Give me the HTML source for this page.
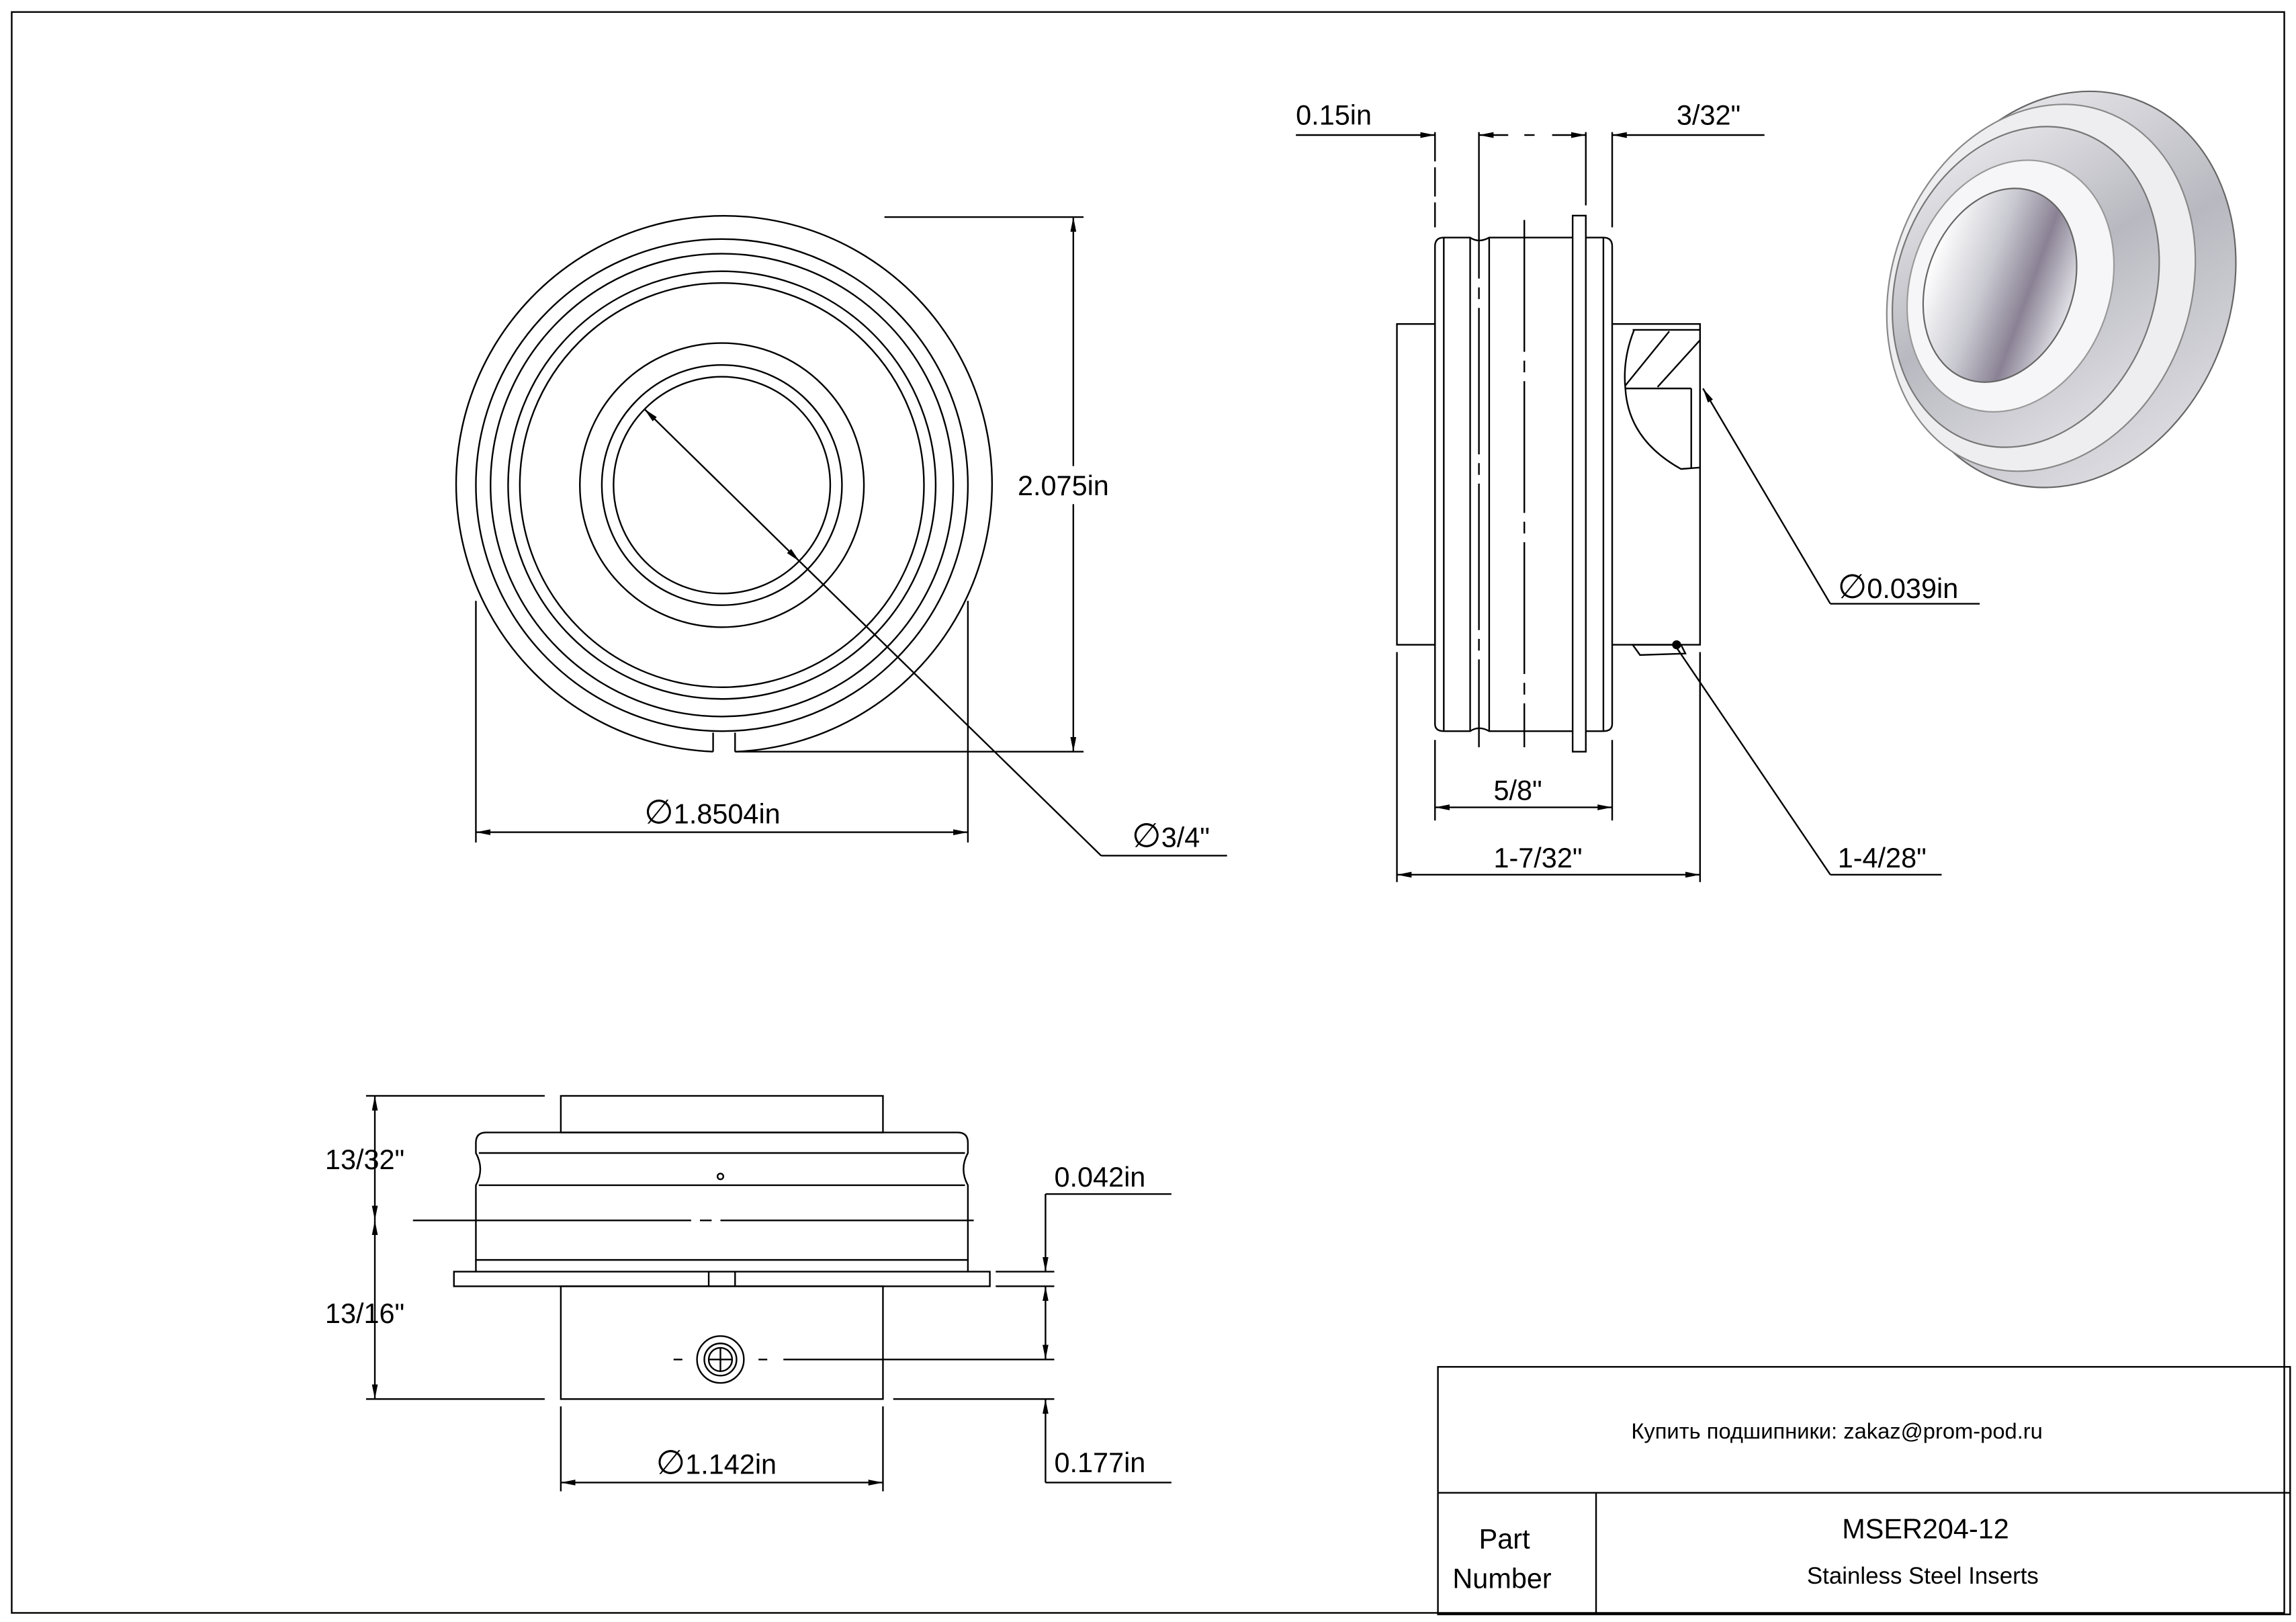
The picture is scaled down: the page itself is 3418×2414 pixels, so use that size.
<!DOCTYPE html>
<html><head><meta charset="utf-8"><style>
html,body{margin:0;padding:0;background:#fff}
svg{display:block}
text{font-family:"Liberation Sans",sans-serif;fill:#000}
</style></head><body>
<svg width="3418" height="2414" viewBox="0 0 1568 1107" xmlns="http://www.w3.org/2000/svg">
<defs><marker id="a" viewBox="0 0 10 4" refX="10" refY="2" markerWidth="10" markerHeight="4" orient="auto-start-reverse" markerUnits="userSpaceOnUse"><path d="M0,0L10,2L0,4z" fill="#000"/></marker>
<linearGradient id="g1" x1="0" y1="0" x2="1" y2="1"><stop offset="0" stop-color="#f4f4f6"/><stop offset=".5" stop-color="#b8b8c0"/><stop offset="1" stop-color="#e8e8ec"/></linearGradient>
<linearGradient id="g2" x1="0" y1="0" x2="1" y2="0"><stop offset="0" stop-color="#fff"/><stop offset=".4" stop-color="#c8c8d0"/><stop offset=".7" stop-color="#8a8294"/><stop offset="1" stop-color="#e0e0e6"/></linearGradient></defs>
<g fill="none" stroke="#000" stroke-width="1.1">
<rect x="8" y="8" width="1552" height="1093"/>
<!-- front view -->
<path d="M487,513 A183,183 0 1 1 502,513"/>
<line x1="487" y1="513" x2="487" y2="500"/><line x1="502" y1="513" x2="502" y2="500"/>
<circle cx="493" cy="331" r="168"/>
<circle cx="493" cy="331" r="158"/>
<circle cx="493" cy="331" r="146"/>
<circle cx="493" cy="331" r="138"/>
<circle cx="493" cy="331" r="97"/>
<circle cx="493" cy="331" r="82"/>
<circle cx="493" cy="331" r="74"/>
<line x1="502" y1="513" x2="740" y2="513"/>
<line x1="604" y1="148" x2="740" y2="148"/>
<line x1="733" y1="148" x2="733" y2="513" marker-start="url(#a)" marker-end="url(#a)"/>
<line x1="325" y1="410" x2="325" y2="575"/>
<line x1="661" y1="410" x2="661" y2="575"/>
<line x1="325" y1="568" x2="661" y2="568" marker-start="url(#a)" marker-end="url(#a)"/>
<line x1="440" y1="279" x2="546" y2="383" marker-start="url(#a)" marker-end="url(#a)"/>
<line x1="546" y1="383" x2="752" y2="584"/>
<line x1="752" y1="584" x2="838" y2="584"/>
<!-- side view -->
<rect x="954" y="221" width="26" height="219"/>
<path d="M980,168 Q980,162 986,162 L1004,162 Q1010,166 1017,162 L1095,162 Q1101,162 1101,168 L1101,494 Q1101,499 1095,499 L1017,499 Q1010,495 1004,499 L986,499 Q980,499 980,494 Z"/>
<line x1="986" y1="162" x2="986" y2="499"/>
<line x1="1004" y1="162" x2="1004" y2="499"/>
<line x1="1017" y1="162" x2="1017" y2="499"/>
<line x1="1095" y1="162" x2="1095" y2="499"/>
<rect x="1074" y="147" width="9" height="366" fill="#fff"/>
<line x1="1041" y1="150" x2="1041" y2="510" stroke-dasharray="90,6,8,6"/>
<line x1="1010" y1="90" x2="1010" y2="510" stroke-dasharray="100,6,8,6"/>
<path d="M1101,221 L1161,221 L1161,440 L1101,440"/>
<line x1="1115" y1="225" x2="1161" y2="225"/>
<path d="M1116,225 Q1108,245 1110,265 Q1112,300 1148,320 L1161,319"/>
<line x1="1110" y1="265" x2="1155" y2="265"/>
<line x1="1155" y1="265" x2="1155" y2="320"/>
<line x1="1110" y1="263" x2="1140" y2="226"/>
<line x1="1132" y1="264" x2="1161" y2="232"/>
<path d="M1115,440 L1148,440 L1151,446 L1120,447 Z"/>
<circle cx="1145" cy="440" r="2.5" fill="#000"/>
<line x1="980" y1="90" x2="980" y2="155" stroke-dasharray="20,4"/>
<line x1="1083" y1="90" x2="1083" y2="140"/>
<line x1="1101" y1="90" x2="1101" y2="155"/>
<line x1="885" y1="92" x2="980" y2="92" marker-end="url(#a)"/>
<line x1="1010" y1="92" x2="1030" y2="92" marker-start="url(#a)"/>
<line x1="1060" y1="92" x2="1083" y2="92" marker-end="url(#a)"/>
<line x1="1101" y1="92" x2="1205" y2="92" marker-start="url(#a)"/>
<line x1="1041" y1="92" x2="1048" y2="92"/>
<line x1="980" y1="505" x2="980" y2="560"/>
<line x1="1101" y1="505" x2="1101" y2="560"/>
<line x1="980" y1="551" x2="1101" y2="551" marker-start="url(#a)" marker-end="url(#a)"/>
<line x1="954" y1="445" x2="954" y2="602"/>
<line x1="1161" y1="445" x2="1161" y2="602"/>
<line x1="954" y1="597" x2="1161" y2="597" marker-start="url(#a)" marker-end="url(#a)"/>
<line x1="1250" y1="412" x2="1163" y2="265" marker-end="url(#a)"/>
<line x1="1250" y1="412" x2="1352" y2="412"/>
<line x1="1145" y1="442" x2="1250" y2="597"/>
<line x1="1250" y1="597" x2="1326" y2="597"/>
<!-- bottom view -->
<rect x="383" y="748" width="220" height="25"/>
<path d="M325,780 Q325,773 332,773 L654,773 Q661,773 661,780 L661,787 Q655,798 661,809 L661,860 L325,860 L325,809 Q331,798 325,787 Z"/>
<line x1="327" y1="787" x2="659" y2="787"/>
<line x1="327" y1="809" x2="659" y2="809"/>
<circle cx="492" cy="803" r="2"/>
<line x1="282" y1="833" x2="665" y2="833" stroke-dasharray="190,6,8,6"/>
<rect x="310" y="868" width="366" height="10"/>
<line x1="325" y1="860" x2="325" y2="868"/>
<line x1="661" y1="860" x2="661" y2="868"/>
<line x1="484" y1="868" x2="484" y2="878"/><line x1="502" y1="868" x2="502" y2="878"/>
<rect x="383" y="878" width="220" height="77"/>
<circle cx="492" cy="928" r="16"/>
<circle cx="492" cy="928" r="11"/>
<circle cx="492" cy="928" r="8"/>
<line x1="484" y1="928" x2="500" y2="928"/><line x1="492" y1="920" x2="492" y2="936"/>
<line x1="460" y1="928" x2="466" y2="928"/><line x1="518" y1="928" x2="524" y2="928"/>
<line x1="535" y1="928" x2="720" y2="928"/>
<line x1="250" y1="748" x2="372" y2="748"/>
<line x1="250" y1="955" x2="372" y2="955"/>
<line x1="256" y1="748" x2="256" y2="833" marker-start="url(#a)" marker-end="url(#a)"/>
<line x1="256" y1="833" x2="256" y2="955" marker-start="url(#a)" marker-end="url(#a)"/>
<line x1="383" y1="960" x2="383" y2="1018"/>
<line x1="603" y1="960" x2="603" y2="1018"/>
<line x1="383" y1="1012" x2="603" y2="1012" marker-start="url(#a)" marker-end="url(#a)"/>
<line x1="680" y1="868" x2="720" y2="868"/>
<line x1="680" y1="878" x2="720" y2="878"/>
<line x1="610" y1="955" x2="720" y2="955"/>
<line x1="714" y1="815" x2="714" y2="868" marker-end="url(#a)"/>
<line x1="714" y1="815" x2="800" y2="815"/>
<line x1="714" y1="878" x2="714" y2="928" marker-start="url(#a)" marker-end="url(#a)"/>
<line x1="714" y1="955" x2="714" y2="1012" marker-start="url(#a)"/>
<line x1="714" y1="1012" x2="800" y2="1012"/>
<!-- title block -->
<rect x="982" y="933" width="582" height="169"/>
<line x1="982" y1="1019" x2="1564" y2="1019"/>
<line x1="1090" y1="1019" x2="1090" y2="1102"/>
</g>
<!-- 3D render -->
<g transform="rotate(20 1405 195)">
<ellipse cx="1412" cy="195" rx="112" ry="138" fill="url(#g1)" stroke="#666"/>
<ellipse cx="1395" cy="200" rx="102" ry="128" fill="#eeeef0" stroke="#888"/>
<ellipse cx="1385" cy="203" rx="88" ry="112" fill="url(#g1)" stroke="#777"/>
<ellipse cx="1375" cy="206" rx="68" ry="88" fill="#f6f6f8" stroke="#999"/>
<ellipse cx="1368" cy="208" rx="50" ry="68" fill="url(#g2)" stroke="#666"/>
</g>
<rect x="693" y="318" width="78" height="26" fill="#fff"/>
<g font-size="19">
<text x="885" y="85">0.15in</text>
<text x="1145" y="85">3/32"</text>
<text x="695" y="338">2.075in</text>
<text x="1255" y="408"><tspan font-size="23">∅</tspan>0.039in</text>
<text x="1020" y="546">5/8"</text>
<text x="1020" y="592">1-7/32"</text>
<text x="1255" y="592">1-4/28"</text>
<text x="440" y="562"><tspan font-size="23">∅</tspan>1.8504in</text>
<text x="773" y="578"><tspan font-size="23">∅</tspan>3/4"</text>
<text x="222" y="798">13/32"</text>
<text x="222" y="903">13/16"</text>
<text x="720" y="810">0.042in</text>
<text x="720" y="1005">0.177in</text>
<text x="448" y="1006"><tspan font-size="23">∅</tspan>1.142in</text>
<text x="1010" y="1057">Part</text>
<text x="992" y="1084">Number</text>
<text x="1258" y="1050">MSER204-12</text>
</g>
<text x="1114" y="982" font-size="15" style="font-family:'Liberation Sans','Noto Sans CJK SC',sans-serif">Купить подшипники: zakaz@prom-pod.ru</text>
<text x="1234" y="1081" font-size="16">Stainless Steel Inserts</text>
</svg>
</body></html>
